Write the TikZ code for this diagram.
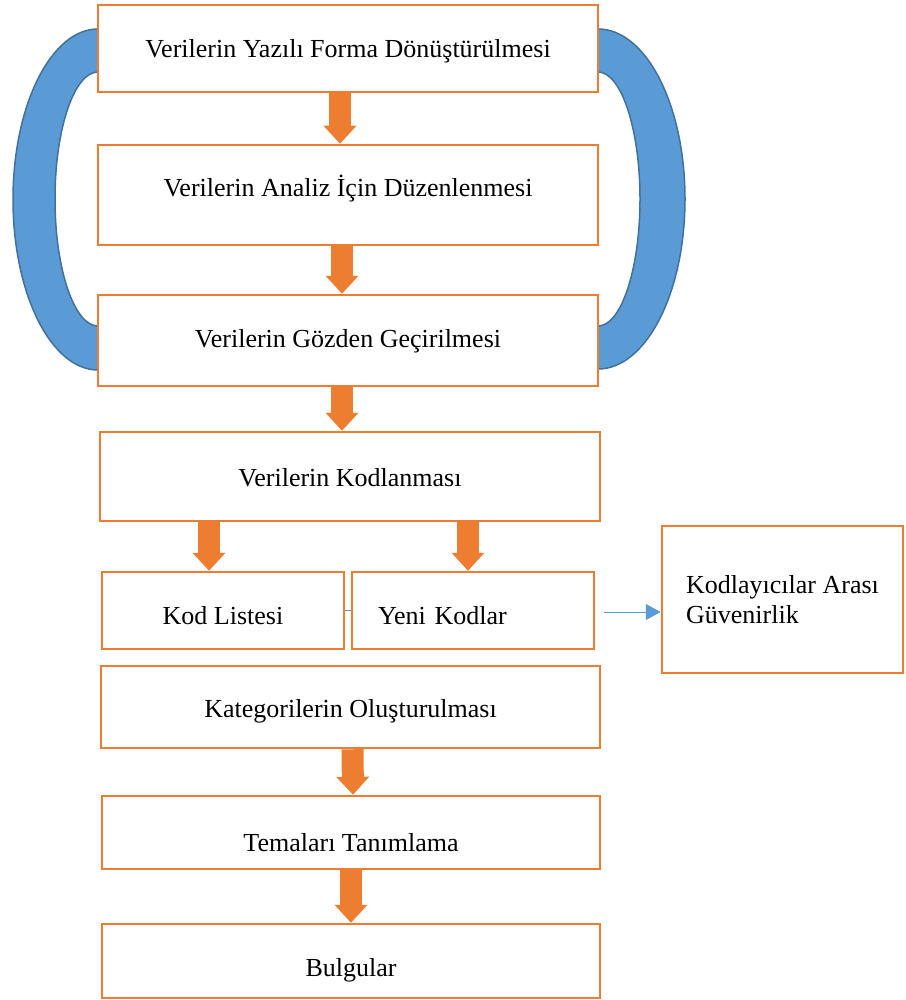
\documentclass[tikz,border=0pt]{standalone}
\usepackage{fontspec}
\setmainfont{Liberation Serif}
\usetikzlibrary{arrows.meta,calc,positioning}
\definecolor{boxorange}{RGB}{237,125,49}
\definecolor{loopblue}{RGB}{91,155,213}
\definecolor{loopedge}{RGB}{65,113,156}
\tikzset{
  stepbox/.style={draw=boxorange, line width=2.5pt, fill=white, inner sep=0pt,
    minimum width=500pt, font=\fontsize{26}{30}\selectfont},
  smallbox/.style={stepbox, minimum width=242pt, minimum height=77pt},
  txth/.style={text height=#1, text depth=6pt},
  blockarrow/.style={draw=boxorange, line width=22pt, -{Triangle[width=32pt,length=18pt]}},
  loopband/.style={fill=loopblue, draw=loopedge, line width=1.5pt},
  bluelink/.style={draw=loopblue, line width=1pt},
}
\begin{document}
\begin{tikzpicture}[x=1pt,y=-1pt]
\useasboundingbox (0,0) rectangle (905,1000);
% blue loop bands
\draw[loopband] (98,29) arc[start angle=270, end angle=90, x radius=85, y radius=170.5]
  -- (98,326) arc[start angle=90, end angle=270, x radius=43, y radius=127] -- cycle;
\draw[loopband] (598,29) arc[start angle=-90, end angle=90, x radius=87, y radius=170]
  -- (598,326) arc[start angle=90, end angle=-90, x radius=42, y radius=127] -- cycle;
% boxes
\draw (348,48.5) node (b1) [stepbox, minimum height=87pt, txth=24pt] {Verilerin Yazılı Forma Dönüştürülmesi};
\draw (348,195) node (b2) [stepbox, minimum height=100pt, txth=10pt] {Verilerin Analiz İçin Düzenlenmesi};
\draw (348,340.5) node (b3) [stepbox, minimum height=91pt, txth=19pt] {Verilerin Gözden Geçirilmesi};
\draw (350,476.5) node (b4) [stepbox, minimum height=89pt, txth=26pt] {Verilerin Kodlanması};
\draw (223,610.5) node (kod) [smallbox, txth=34pt] {Kod Listesi};
\draw (473,610.5) node (yeni) [smallbox, txth=34pt, text width=190pt, align=left] {Yeni Kodlar};
\draw (782.5,599.5) node (kg) [stepbox, minimum width=241pt, minimum height=147pt, align=left] {Kodlayıcılar Arası\\Güvenirlik};
\draw (350.5,707) node (b8) [stepbox, minimum width=499pt, minimum height=82pt, txth=26pt] {Kategorilerin Oluşturulması};
\draw (351,832.5) node (b9) [stepbox, minimum width=498pt, minimum height=73pt, txth=43pt] {Temaları Tanımlama};
\draw (351,961) node (b10) [stepbox, minimum width=498pt, minimum height=74pt, txth=36pt] {Bulgular};
% orange block arrows
\draw[blockarrow] ([xshift=-8pt]b1.south) -- ([xshift=-8pt]b2.north);
\draw[blockarrow] ([xshift=-6pt]b2.south) -- ([xshift=-6pt]b3.north);
\draw[blockarrow] ([xshift=-6pt]b3.south) -- ([xshift=-8pt]b4.north);
\draw[blockarrow] (b4.south -| 209,0) -- (kod.north -| 209,0);
\draw[blockarrow] (b4.south -| 468,0) -- (yeni.north -| 468,0);
\draw[blockarrow] ([xshift=2pt]b8.south) -- ([xshift=2pt]b9.north);
\draw[blockarrow] (b9.south) -- (b10.north);
% blue links
\draw[bluelink] (kod.east) -- (yeni.west);
\coordinate (gstart) at ([xshift=9pt,yshift=-1.5pt]yeni.east);
\draw[bluelink, -{Triangle[width=16pt,length=15pt]}] (gstart) -- (gstart -| kg.west);
\end{tikzpicture}
\end{document}
